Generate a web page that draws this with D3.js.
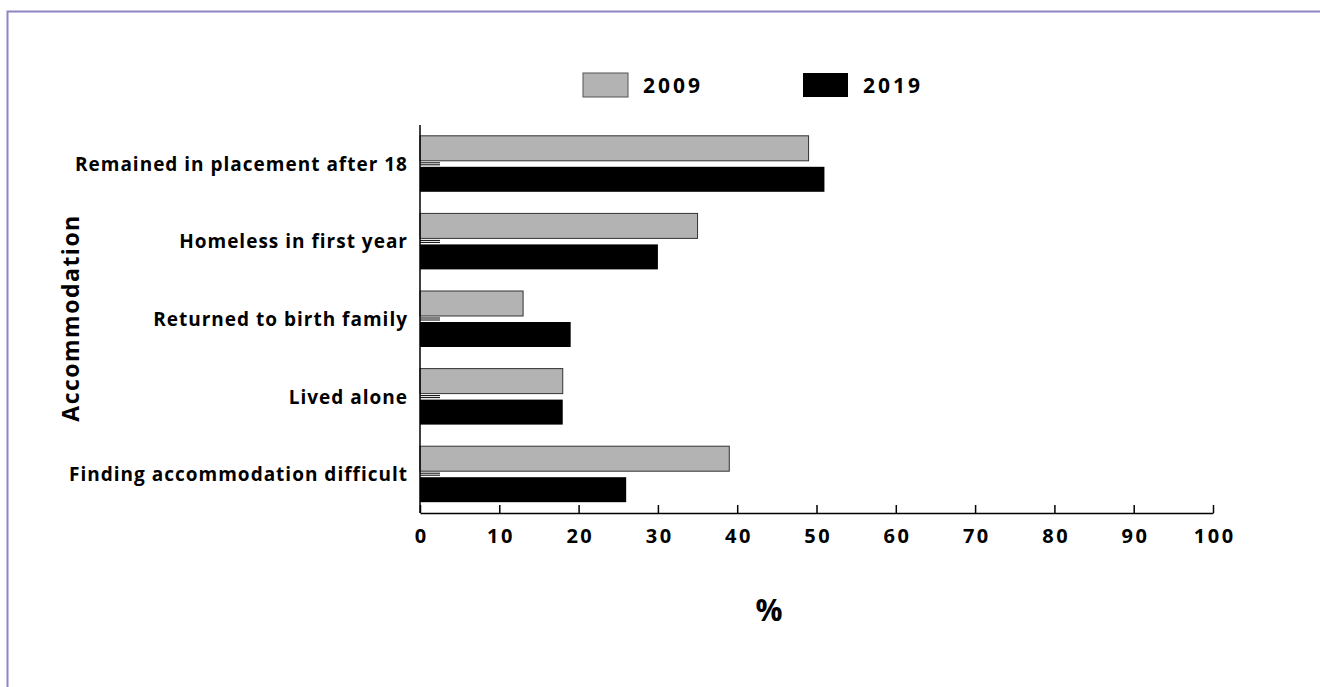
<!DOCTYPE html>
<html>
<head>
<meta charset="utf-8">
<script src="https://cdn.jsdelivr.net/npm/d3@7"></script>
<style>
  html, body { margin: 0; padding: 0; background: #fff; }
  svg { display: block; }
  text { font-family: "Open Sans", Lato, sans-serif; font-weight: 700; fill: #000; }
</style>
</head>
<body>
<script>
// Accommodation outcomes for care leavers, 2009 vs 2019 (%)
const categories = [
  "Remained in placement after 18",
  "Homeless in first year",
  "Returned to birth family",
  "Lived alone",
  "Finding accommodation difficult"
];
const seriesNames = ["2009", "2019"];
const values2009 = [49, 35, 13, 18, 39];
const values2019 = [51, 30, 19, 18, 26];
const xTicks = [0, 10, 20, 30, 40, 50, 60, 70, 80, 90, 100];
const xTitle = "%";
const yTitle = "Accommodation";

const W = 1320, H = 687;
const svg = d3.select("body").append("svg").attr("width", W).attr("height", H);

// frame
svg.append("path")
  .attr("d", `M7.5,${H} V11.5 H${W}`)
  .attr("fill", "none").attr("stroke", "#8f84c4").attr("stroke-width", 2);

const x = d3.scaleLinear().domain([0, 100]).range([420, 1213]);
const y = d3.scaleBand().domain(categories).range([125, 513]);

const colors = { "2009": "#b3b3b3", "2019": "#000000" };
const rows = categories.map((c, i) => ({ cat: c, v: [values2009[i], values2019[i]] }));

const barH = 25, gap = 6;
const g = svg.append("g");
rows.forEach(r => {
  const cy = y(r.cat) + y.bandwidth() / 2;
  seriesNames.forEach((s, j) => {
    const top = j === 0 ? cy - gap / 2 - barH : cy + gap / 2;
    g.append("rect")
      .attr("x", x(0)).attr("y", top)
      .attr("width", x(r.v[j]) - x(0)).attr("height", barH)
      .attr("fill", colors[s])
      .attr("stroke", j === 0 ? "#333" : "none")
      .attr("stroke-width", 1);
  });
  // short double tick at the category centre
  [-1, 1].forEach(o => {
    g.append("line")
      .attr("x1", x(0)).attr("x2", x(0) + 20)
      .attr("y1", cy + o).attr("y2", cy + o)
      .attr("stroke", "#000").attr("stroke-width", 1);
  });
});

// x axis (ticks point up into the plot)
const tickSpacing = 2.5;
const xAxis = svg.append("g").attr("transform", "translate(0,513)")
  .call(d3.axisBottom(x).tickValues(xTicks).tickSize(-8).tickPadding(16).tickSizeOuter(0));
xAxis.select(".domain").attr("stroke", "#000").attr("stroke-width", 1.5);
xAxis.selectAll(".tick line").attr("stroke", "#000").attr("stroke-width", 1.5);
xAxis.selectAll(".tick text")
  .attr("font-size", 20).attr("dy", "0.32em").attr("y", 24).attr("dx", tickSpacing / 2)
  .style("letter-spacing", tickSpacing + "px")
  .style("font-family", "'Open Sans', sans-serif").style("font-weight", 700).attr("fill", "#000");

// y axis line
svg.append("line")
  .attr("x1", x(0)).attr("x2", x(0)).attr("y1", 125).attr("y2", 513)
  .attr("stroke", "#000").attr("stroke-width", 1.5);

// category labels
svg.append("g").selectAll("text").data(categories).join("text")
  .attr("x", 408).attr("y", d => y(d) + y.bandwidth() / 2)
  .attr("text-anchor", "end").attr("dominant-baseline", "central")
  .attr("font-size", 19).style("letter-spacing", "1px").text(d => d);

// axis titles
svg.append("text")
  .attr("transform", "translate(70,318) rotate(-90)")
  .attr("text-anchor", "middle").attr("dominant-baseline", "central")
  .attr("font-size", 23).style("letter-spacing", "1.5px").text(yTitle);
svg.append("text")
  .attr("x", 769).attr("y", 609)
  .attr("text-anchor", "middle").attr("dominant-baseline", "central")
  .attr("font-size", 30).text(xTitle);

// legend
const legendX = [583, 803];
seriesNames.forEach((s, i) => {
  svg.append("rect")
    .attr("x", legendX[i]).attr("y", 73).attr("width", 45).attr("height", 24)
    .attr("fill", colors[s]).attr("stroke", i === 0 ? "#555" : "none");
  svg.append("text")
    .attr("x", legendX[i] + 60).attr("y", 85)
    .attr("dominant-baseline", "central")
    .attr("font-size", 21).style("letter-spacing", "3px").text(s);
});
</script>
</body>
</html>
